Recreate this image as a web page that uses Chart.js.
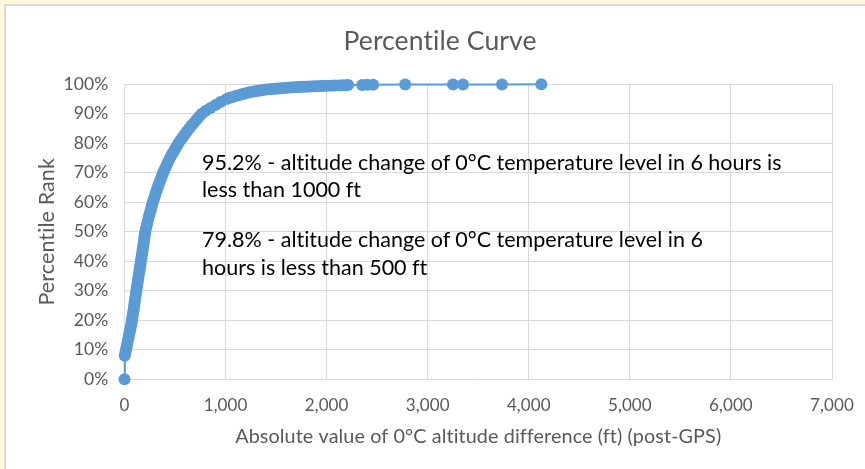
<!DOCTYPE html>
<html><head><meta charset="utf-8">
<script src="https://cdn.jsdelivr.net/npm/chart.js@4.4.1/dist/chart.umd.min.js"></script>
<style>
html,body{margin:0;padding:0;background:#FFF8DC;width:865px;height:469px;overflow:hidden;}
#frame{position:absolute;left:4px;top:4px;right:0;bottom:0;background:#fff;border-left:2px solid #d9d9d9;border-top:2px solid #d9d9d9;}
#c{position:absolute;left:0;top:0;font-variant-ligatures:none;}
.note{position:absolute;font-family:Lato, sans-serif;font-size:21.5px;color:#000;white-space:nowrap;font-variant-ligatures:none;font-feature-settings:"liga" 0, "clig" 0;}
#n1{left:202px;top:149px;line-height:27px;}
#n2{left:202px;top:225px;line-height:28px;}
</style></head><body>
<div id="frame"></div>
<canvas id="c" width="865" height="469"></canvas>
<div class="note" id="n1">95.2% - altitude change of 0°C temperature level in 6 hours is<br>less than 1000 ft</div>
<div class="note" id="n2">79.8% - altitude change of 0°C temperature level in 6<br>hours is less than 500 ft</div>
<script>
const xFt = [0, 3, 8, 15, 21, 27, 33, 39, 45, 51, 57, 63, 69, 74, 78, 83, 87, 92, 96, 100, 104, 109, 113, 117, 122, 126, 131, 135, 140, 144, 149, 153, 158, 162, 167, 171, 176, 180, 185, 189, 193, 197, 201, 205, 212, 219, 226, 233, 240, 248, 256, 264, 272, 280, 289, 299, 308, 318, 328, 338, 349, 360, 371, 382, 395, 408, 422, 436, 450, 466, 482, 499, 516, 533, 553, 574, 595, 617, 640, 663, 688, 712, 738, 764, 805, 850, 900, 950, 1010,
  1040, 1070, 1100, 1130, 1160, 1190, 1220, 1250, 1280, 1310, 1340, 1370, 1400, 1430, 1460, 1490, 1520, 1550, 1580, 1610, 1640, 1670, 1700, 1730, 1760, 1790, 1820, 1850, 1880, 1910, 1940, 1970, 2000, 2040, 2080, 2120, 2150, 2183, 2213, 2351, 2400, 2460, 2777, 3250, 3349, 3735, 4124];
const pct = [0, 8, 9, 10, 11, 12, 13, 14, 15, 16, 17, 18, 19, 20, 21, 22, 23, 24, 25, 26, 27, 28, 29, 30, 31, 32, 33, 34, 35, 36, 37, 38, 39, 40, 41, 42, 43, 44, 45, 46, 47, 48, 49, 50, 51, 52, 53, 54, 55, 56, 57, 58, 59, 60, 61, 62, 63, 64, 65, 66, 67, 68, 69, 70, 71, 72, 73, 74, 75, 76, 77, 78, 79, 80, 81, 82, 83, 84, 85, 86, 87, 88, 89, 90, 91, 92, 93, 94, 95,
  95.4, 95.7, 96.0, 96.3, 96.6, 96.85, 97.1, 97.35, 97.55, 97.75, 97.9, 98.05, 98.2, 98.3, 98.4, 98.5, 98.6, 98.68, 98.76, 98.84, 98.9, 98.96, 99.02, 99.08, 99.13, 99.18, 99.23, 99.28, 99.32, 99.36, 99.4, 99.44, 99.48, 99.53, 99.58, 99.63, 99.67, 99.7, 99.73, 99.78, 99.82, 99.86, 99.9, 99.93, 99.95, 99.97, 100];
const xTickValues = [0, 1000, 2000, 3000, 4000, 5000, 6000, 7000];
const yTickValues = [0, 10, 20, 30, 40, 50, 60, 70, 80, 90, 100];

const BLUE = '#5B9BD5', GRID = '#d9d9d9', TXT = '#595959';
const points = xFt.map((x, i) => ({x: x, y: pct[i]}));

const noLigatures = {
  id: 'noLigatures',
  beforeInit(chart) { chart.ctx.letterSpacing = '0.1px'; },
  beforeUpdate(chart) { chart.ctx.letterSpacing = '0.1px'; },
  beforeDraw(chart) { chart.ctx.letterSpacing = '0.1px'; }
};

new Chart(document.getElementById('c'), {
  type: 'scatter',
  plugins: [noLigatures],
  data: {datasets: [{
    data: points, showLine: true, borderColor: BLUE, backgroundColor: BLUE,
    pointBackgroundColor: BLUE, pointBorderColor: BLUE, borderWidth: 2,
    pointRadius: 6, pointBorderWidth: 0, pointHoverRadius: 6, clip: false, tension: 0
  }]},
  options: {
    responsive: false, animation: false, events: [],
    layout: {padding: {left: 15, right: 0, top: 0, bottom: 0}},
    plugins: {
      legend: {display: false}, tooltip: {enabled: false},
      title: {display: true, text: 'Percentile Curve', color: TXT,
        font: {family: 'Lato', size: 26.5, weight: 'normal'}, padding: {top: 26, bottom: 26.5}}
    },
    scales: {
      x: {
        type: 'linear', min: 0, max: 7000,
        afterBuildTicks: s => { s.ticks = xTickValues.map(v => ({value: v})); },
        ticks: {color: TXT, font: {family: 'Lato', size: 17}, padding: 16, maxRotation: 0, autoSkip: false,
          callback: v => v.toLocaleString('en-US')},
        grid: {color: GRID, lineWidth: 1, drawTicks: false},
        border: {display: false},
        title: {display: true, text: 'Absolute value of 0°C altitude difference (ft) (post-GPS)', color: TXT,
          font: {family: 'Lato', size: 19.8}, padding: {top: 0, bottom: 20.5}},
        afterFit: s => { s.height = 89.7; s.paddingRight = 33; }
      },
      y: {
        type: 'linear', min: 0, max: 100,
        afterBuildTicks: s => { s.ticks = yTickValues.map(v => ({value: v})); },
        ticks: {color: TXT, font: {family: 'Lato', size: 17.5}, padding: 16, autoSkip: false,
          callback: v => v + '%'},
        grid: {color: GRID, lineWidth: 1, drawTicks: false},
        border: {display: false},
        title: {display: true, text: 'Percentile Rank', color: TXT,
          font: {family: 'Lato', size: 21.5}, padding: {top: 19, bottom: 0}},
        afterFit: s => { s.width = 109.5; }
      }
    }
  }
});
</script>
</body></html>
